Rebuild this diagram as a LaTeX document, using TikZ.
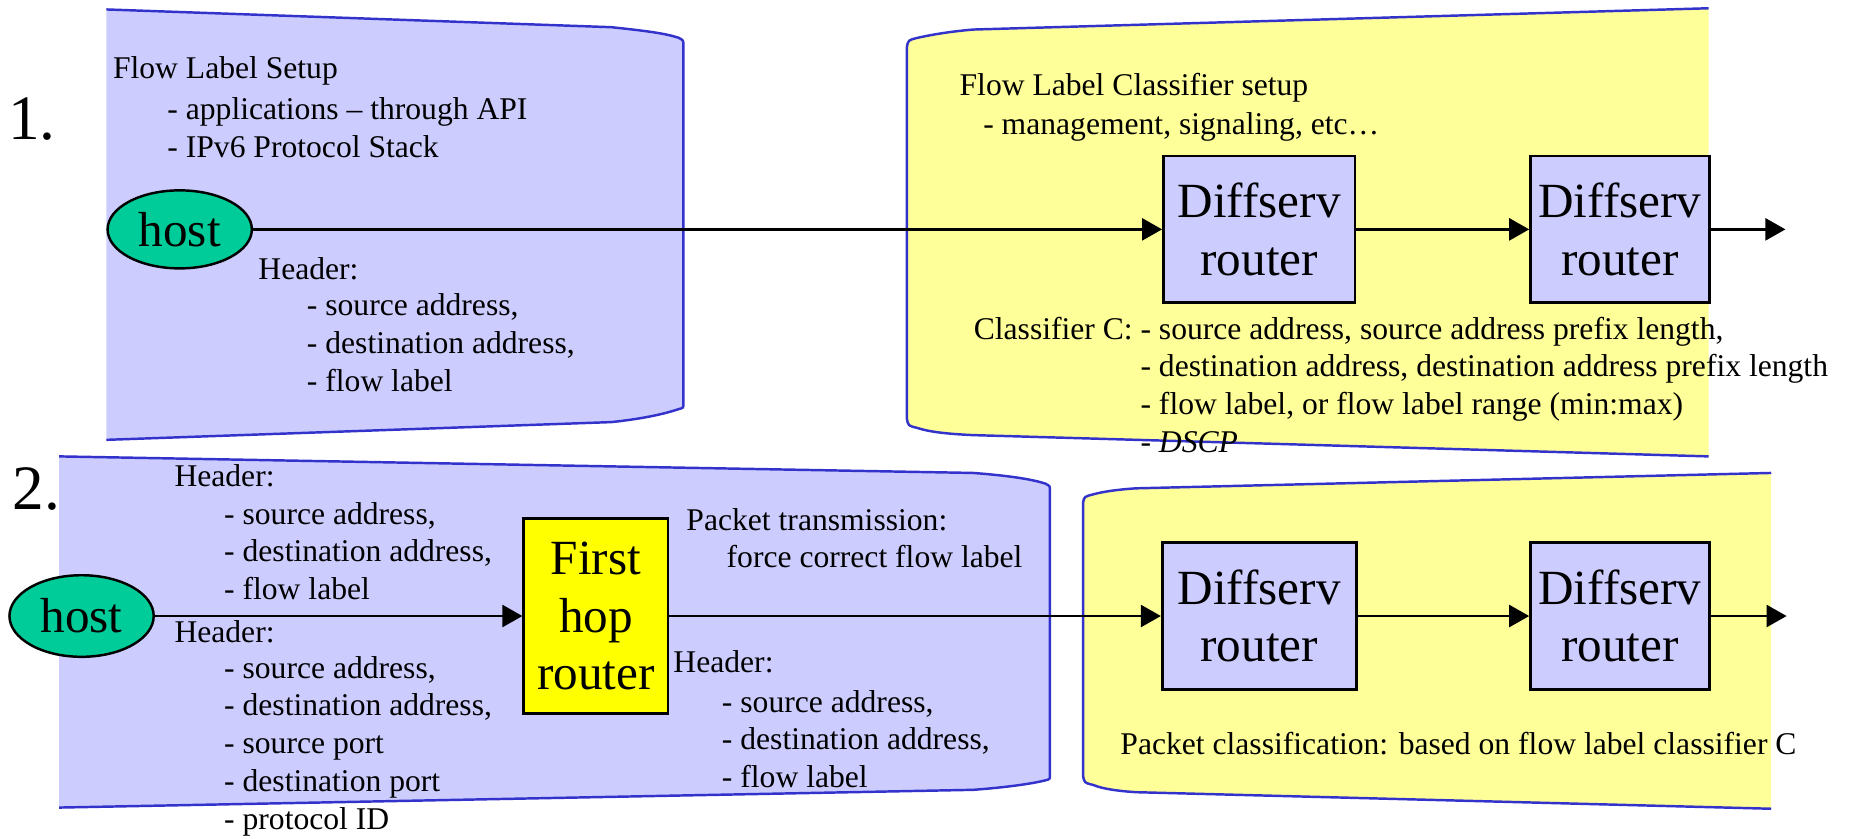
\documentclass[tikz,border=0pt]{standalone}
\usepackage{fontspec}
\setmainfont{Liberation Serif}
\usetikzlibrary{arrows.meta,shapes.geometric}
\newcommand{\unitpx}{0.1183mm}
\definecolor{panelblue}{HTML}{CCCCFF}
\definecolor{panelyellow}{HTML}{FFFF99}
\definecolor{edgeblue}{HTML}{3333CC}
\definecolor{hostgreen}{HTML}{00CC99}
\definecolor{hopyellow}{HTML}{FFFF00}
\tikzset{
  smalltext/.style={font=\fontsize{9}{10.75}\selectfont, anchor=west, inner sep=0pt, align=left},
  bigtext/.style={font=\fontsize{14}{16.4}\selectfont, align=center},
  stepnum/.style={font=\fontsize{18}{20}\selectfont, inner sep=0pt},
  hostnode/.style={ellipse, draw, line width=0.7pt, fill=hostgreen, inner sep=0pt, minimum width=122*\unitpx, bigtext},
  routerbox/.style={rectangle, draw, line width=0.8pt, fill=panelblue, inner sep=0pt, minimum height=124*\unitpx, bigtext},
  panel/.style={draw=edgeblue, line width=0.7pt},
  arr/.style={-{Triangle[length=2mm,width=2.2mm]}, line width=0.7pt}
}
\begin{document}
\begin{tikzpicture}[x=\unitpx, y=-\unitpx]
\useasboundingbox (0,0) rectangle (1568,709);

% panels (left edge / right edge open)
\path[panel, fill=panelblue] (90,372) -- (517,357) .. controls (545,354) and (562,350) .. (574,346) .. controls (578,345) .. (578,341) -- (578,39) .. controls (578,34) .. (574,32) .. controls (562,28) and (545,26) .. (517,23) -- (90,8);
\path[panel, fill=panelyellow] (1445,7) -- (823,25) .. controls (800,27) and (785,30) .. (776,32) .. controls (768,34) .. (767,40) -- (767,354) .. controls (768,360) .. (776,362) .. controls (785,365) and (800,367) .. (823,368) -- (1445,386);
\path[panel, fill=panelblue] (50,683) -- (823,668) .. controls (850,666) and (872,663) .. (884,660) .. controls (888,659) .. (888,655) -- (888,415) .. controls (888,411) .. (884,409) .. controls (872,405) and (850,402) .. (823,400) -- (50,386);
\path[panel, fill=panelyellow] (1498,400) -- (961,413) .. controls (945,414) and (932,416) .. (925,418) .. controls (917,420) .. (916,425) -- (916,656) .. controls (917,662) .. (925,664) .. controls (932,667) and (945,669) .. (961,670) -- (1498,684);

% 1.
\node[stepnum] (one) at (27,101) {1.};
\node[smalltext] (setup) at (95,60) {Flow Label Setup};
\node[smalltext] (setupitems) at (141,108) {- applications -- through API\\- IPv6 Protocol Stack};
\node[hostnode, minimum height=66*\unitpx] (host1) at (152,194) {host};
\node[smalltext] (hdr1) at (218,227) {Header:};
\node[smalltext] (hdr1items) at (259,290) {- source address,\\- destination address,\\- flow label};

\node[smalltext] (clsetup) at (811,74) {Flow Label Classifier setup};
\node[smalltext] (clsetupitems) at (831,107) {- management, signaling, etc…};
\node[routerbox, minimum width=162*\unitpx] (d1) at (1065,194) {Diffserv\\router};
\node[routerbox, minimum width=151*\unitpx] (d2) at (1370,194) {Diffserv\\router};
\coordinate (out1) at (1510,194);
\node[smalltext] (clsC) at (823,278) {Classifier C:};
\node[smalltext] (clsCitems) at (964,325.5) {- source address, source address prefix length,\\- destination address, destination address prefix length\\- flow label, or flow label range (min:max)\\- \textit{DSCP}};

\draw[arr] (host1.east |- d1.west) -- (d1.west);
\draw[arr] (d1) -- (d2);
\draw[arr] (d2) -- (out1);

% 2.
\node[stepnum] (two) at (31,414) {2.};
\node[smalltext] (hdr2) at (147,402) {Header:};
\node[smalltext] (hdr2items) at (189,466) {- source address,\\- destination address,\\- flow label};
\node[hostnode, minimum height=69*\unitpx] (host2) at (69,521) {host};
\node[smalltext] (hdr3) at (147,534) {Header:};
\node[smalltext] (hdr3items) at (189,631) {- source address,\\- destination address,\\- source port\\- destination port\\- protocol ID};
\node[rectangle, draw, line width=0.8pt, fill=hopyellow, inner sep=0pt, minimum width=122*\unitpx, minimum height=165*\unitpx, bigtext] (fhr) at (504,521) {First\\hop\\router};
\node[smalltext] (ptx) at (580,440) {Packet transmission:};
\node[smalltext] (ptxitem) at (614,471) {force correct flow label};
\node[smalltext] (hdr4) at (569,560) {Header:};
\node[smalltext] (hdr4items) at (610,625) {- source address,\\- destination address,\\- flow label};

\node[routerbox, minimum width=164*\unitpx] (d3) at (1065,521) {Diffserv\\router};
\node[routerbox, minimum width=151*\unitpx] (d4) at (1370,521) {Diffserv\\router};
\coordinate (out2) at (1511,521);
\node[smalltext] (pcls) at (947,628.5) {Packet classification: based on flow label classifier C};

\draw[arr] (host2) -- (fhr);
\draw[arr] (fhr) -- (d3);
\draw[arr] (d3) -- (d4);
\draw[arr] (d4) -- (out2);
\end{tikzpicture}
\end{document}
